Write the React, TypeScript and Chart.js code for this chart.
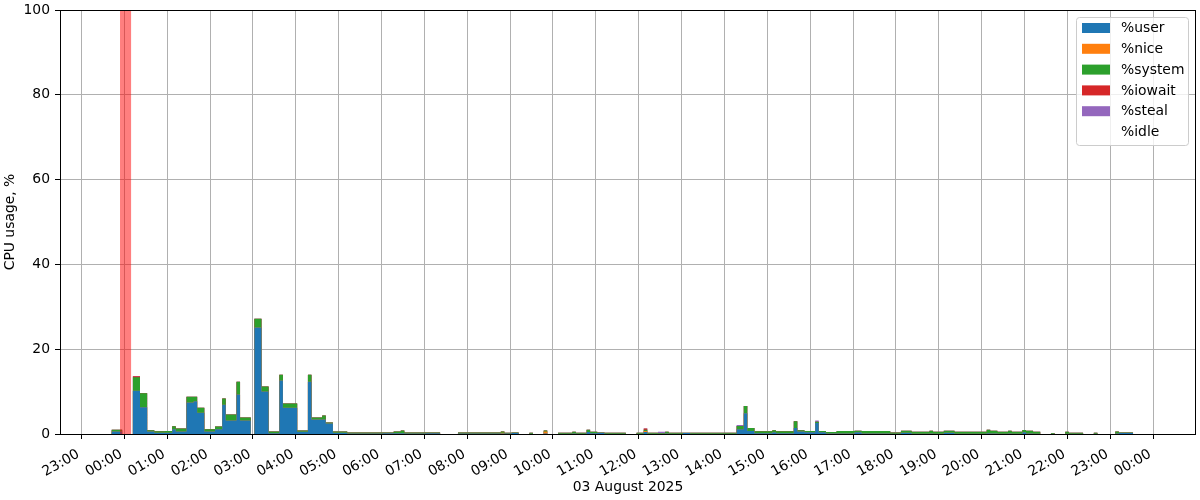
import React, { useEffect, useRef } from 'react';
import { Chart, registerables } from 'chart.js';

Chart.register(...registerables);

// Sample start times in minutes relative to 03 Aug 2025 00:00 (each sample holds until the next one)
const TIMES = [
  -18, -3, 12, 22, 32, 42, 57, 67, 72, 87,
  97, 102, 112, 127, 137, 142, 157, 162, 177, 182,
  192, 202, 217, 222, 242, 257, 262, 277, 282, 292,
  312, 362, 377, 387, 392, 422, 442, 467, 527, 532,
  542, 552, 567, 572, 587, 592, 607, 627, 632, 647,
  652, 662, 672, 702, 717, 727, 732, 747, 757, 762,
  782, 792, 857, 867, 872, 882, 907, 912, 937, 942,
  952, 967, 972, 982, 997, 1022, 1032, 1072, 1087, 1102,
  1127, 1132, 1147, 1162, 1207, 1212, 1222, 1237, 1242, 1257,
  1262, 1272, 1282, 1297, 1302, 1317, 1322, 1342, 1357, 1362,
  1387, 1392, 1412,
];

const USER = [
  0.6, 0, 10.2, 6.3, 0.6, 0.3, 0.3, 1.1, 0.6, 7.4,
  7.7, 5.0, 0.6, 1.1, 6.9, 3.2, 9.3, 3.2, 0, 25.1,
  10.0, 0.2, 12.6, 6.2, 0.55, 12.35, 3.4, 3.4, 2.5, 0.3,
  0.1, 0.2, 0.2, 0.2, 0.1, 0.2, 0, 0.1, 0.1, 0.1,
  0.25, 0, 0.05, 0, 0.1, 0, 0.05, 0.1, 0.05, 0.5,
  0.2, 0.3, 0.05, 0, 0.05, 0.5, 0.05, 0.05, 0.1, 0.05,
  0.25, 0.05, 1.1, 4.9, 0.7, 0.15, 0.4, 0.15, 1.4, 0.6,
  0.4, 2.6, 0.4, 0.1, 0.1, 0.4, 0.1, 0.05, 0.3, 0.05,
  0.1, 0.05, 0.3, 0.05, 0.2, 0.1, 0.05, 0.1, 0.05, 0.4,
  0.1, 0.05, 0, 0.05, 0, 0.05, 0.05, 0, 0.05, 0,
  0.1, 0.25, 0,
];

const NICE = [
  0, 0, 0, 0, 0, 0, 0, 0, 0, 0,
  0, 0, 0, 0, 0, 0, 0, 0, 0, 0,
  0, 0, 0, 0, 0, 0, 0, 0, 0, 0,
  0, 0, 0, 0, 0, 0, 0, 0, 0.2, 0,
  0, 0, 0, 0, 0.5, 0, 0, 0, 0, 0,
  0, 0, 0, 0, 0, 0.2, 0, 0, 0, 0,
  0, 0, 0, 0, 0, 0, 0, 0, 0, 0,
  0, 0, 0, 0, 0, 0, 0, 0, 0, 0,
  0, 0, 0, 0, 0, 0, 0, 0, 0, 0,
  0, 0, 0, 0, 0, 0, 0, 0, 0, 0,
  0, 0, 0,
];

const SYSTEM = [
  0.4, 0, 3.2, 3.3, 0.3, 0.35, 0.4, 0.7, 0.7, 1.4,
  1.1, 1.2, 0.5, 0.65, 1.45, 1.4, 3.05, 0.7, 0, 2.1,
  1.2, 0.4, 1.4, 1.0, 0.25, 1.65, 0.5, 0.95, 0.2, 0.3,
  0.25, 0.15, 0.4, 0.6, 0.25, 0.15, 0, 0.25, 0.3, 0.2,
  0.1, 0, 0.25, 0, 0.2, 0, 0.25, 0.45, 0.25, 0.5,
  0.35, 0.05, 0.25, 0, 0.25, 0.3, 0.25, 0.2, 0.45, 0.25,
  0.05, 0.25, 0.8, 1.7, 0.7, 0.5, 0.5, 0.5, 1.6, 0.3,
  0.3, 0.3, 0.3, 0.35, 0.6, 0.35, 0.6, 0.3, 0.45, 0.5,
  0.65, 0.5, 0.45, 0.5, 0.8, 0.65, 0.5, 0.65, 0.5, 0.55,
  0.65, 0.5, 0, 0.2, 0, 0.5, 0.25, 0, 0.25, 0,
  0.5, 0.1, 0,
];

const IOWAIT = [
  0, 0, 0.2, 0, 0, 0, 0, 0, 0, 0,
  0, 0, 0, 0, 0, 0, 0, 0, 0, 0,
  0, 0, 0, 0, 0, 0, 0, 0, 0, 0,
  0, 0, 0, 0, 0, 0, 0, 0, 0, 0,
  0, 0, 0, 0, 0, 0, 0, 0, 0, 0,
  0, 0, 0, 0, 0, 0.3, 0, 0, 0, 0,
  0, 0, 0, 0, 0, 0, 0, 0, 0, 0,
  0, 0, 0, 0, 0, 0, 0, 0, 0, 0,
  0, 0, 0, 0, 0, 0, 0, 0, 0, 0,
  0, 0, 0, 0, 0, 0, 0, 0, 0, 0,
  0, 0, 0,
];

const STEAL = [
  0, 0, 0, 0, 0, 0, 0, 0, 0, 0,
  0, 0, 0, 0, 0, 0, 0, 0, 0, 0,
  0, 0, 0, 0, 0, 0, 0, 0, 0, 0,
  0, 0, 0, 0, 0, 0, 0, 0, 0, 0,
  0, 0, 0, 0, 0, 0, 0, 0, 0, 0,
  0, 0, 0, 0, 0, 0, 0, 0.3, 0, 0,
  0, 0, 0.2, 0, 0, 0, 0, 0, 0, 0,
  0, 0.3, 0, 0, 0, 0, 0, 0, 0, 0,
  0, 0, 0, 0, 0, 0, 0, 0, 0, 0,
  0, 0, 0, 0, 0, 0, 0, 0, 0, 0,
  0, 0, 0,
];

// Missing-data / reboot window (minutes)
const REBOOT_SPAN = [-6, 9.5];

const HOUR_TICKS = [
  -60, 0, 60, 120, 180, 240, 300, 360, 420, 480, 540, 600, 660,
  720, 780, 840, 900, 960, 1020, 1080, 1140, 1200, 1260, 1320, 1380, 1440,
];
const TICK_LABELS = [
  '23:00', '00:00', '01:00', '02:00', '03:00', '04:00', '05:00', '06:00', '07:00',
  '08:00', '09:00', '10:00', '11:00', '12:00', '13:00', '14:00', '15:00', '16:00',
  '17:00', '18:00', '19:00', '20:00', '21:00', '22:00', '23:00', '00:00',
];

const X_MIN = -90;
const X_MAX = 1500;

const SERIES = [
  { label: '%user', values: USER, color: '#1f77b4' },
  { label: '%nice', values: NICE, color: '#ff7f0e' },
  { label: '%system', values: SYSTEM, color: '#2ca02c' },
  { label: '%iowait', values: IOWAIT, color: '#d62728' },
  { label: '%steal', values: STEAL, color: '#9467bd' },
];

const FONT_FAMILY = 'DejaVu Sans';
const FONT_SIZE = 13.9;

const overlayPlugin = {
  id: 'overlay',
  afterDatasetsDraw(chart: any) {
    const { ctx, chartArea, scales } = chart;
    const x0 = scales.x.getPixelForValue(REBOOT_SPAN[0]);
    const x1 = scales.x.getPixelForValue(REBOOT_SPAN[1]);
    ctx.save();
    ctx.fillStyle = 'rgba(255,0,0,0.5)';
    ctx.fillRect(x0, chartArea.top, x1 - x0, chartArea.bottom - chartArea.top);
    ctx.restore();
  },
  afterDraw(chart: any) {
    const { ctx, chartArea } = chart;
    const L = Math.round(chartArea.left);
    const T = Math.round(chartArea.top);
    const R = Math.round(chartArea.right);
    const B = Math.round(chartArea.bottom);
    ctx.save();
    // spines
    ctx.strokeStyle = '#000';
    ctx.lineWidth = 1;
    ctx.strokeRect(L + 0.5, T + 0.5, R - L - 1, B - T);
    // legend
    const bx = 1076.5, by = 17.5, bw = 112, bh = 128, r = 3;
    ctx.beginPath();
    ctx.moveTo(bx + r, by);
    ctx.lineTo(bx + bw - r, by);
    ctx.quadraticCurveTo(bx + bw, by, bx + bw, by + r);
    ctx.lineTo(bx + bw, by + bh - r);
    ctx.quadraticCurveTo(bx + bw, by + bh, bx + bw - r, by + bh);
    ctx.lineTo(bx + r, by + bh);
    ctx.quadraticCurveTo(bx, by + bh, bx, by + bh - r);
    ctx.lineTo(bx, by + r);
    ctx.quadraticCurveTo(bx, by, bx + r, by);
    ctx.closePath();
    ctx.fillStyle = 'rgba(255,255,255,0.8)';
    ctx.fill();
    ctx.strokeStyle = '#cccccc';
    ctx.stroke();
    ctx.font = `${FONT_SIZE}px "${FONT_FAMILY}"`;
    ctx.textBaseline = 'middle';
    ctx.textAlign = 'left';
    chart.data.datasets.forEach((ds: any, i: number) => {
      const cy = 28 + i * 20.8;
      ctx.fillStyle = ds.backgroundColor;
      ctx.fillRect(1082, cy - 5, 28, 10);
      ctx.fillStyle = '#000';
      ctx.fillText(ds.label, 1121, cy + 0.5);
    });
    ctx.restore();
  },
};

export default function App() {
  const ref = useRef<HTMLCanvasElement>(null);

  useEffect(() => {
    document.body.style.margin = '0';
    if (!ref.current) return;
    const font = { family: FONT_FAMILY, size: FONT_SIZE };

    const datasets: any[] = SERIES.map((s) => ({
      type: 'line',
      label: s.label,
      data: TIMES.map((t, i) => ({ x: t, y: s.values[i] })),
      stepped: 'before',
      fill: 'origin',
      backgroundColor: s.color,
      borderColor: 'transparent',
      borderWidth: 0,
      pointRadius: 0,
      pointHoverRadius: 0,
      tension: 0,
    }));
    datasets.push({
      type: 'line',
      label: '%idle',
      data: [],
      backgroundColor: '#ffffff',
      borderColor: 'transparent',
      pointRadius: 0,
    });

    const chart = new Chart(ref.current, {
      type: 'line',
      data: { datasets },
      options: {
        responsive: false,
        animation: false,
        events: [],
        layout: { padding: { top: 10, right: 4, left: 0, bottom: 0 } },
        plugins: {
          legend: { display: false },
          tooltip: { enabled: false },
        },
        scales: {
          x: {
            type: 'linear',
            min: X_MIN,
            max: X_MAX,
            afterFit: (s: any) => { s.height = 66; s.paddingLeft = 0; s.paddingRight = 0; },
            afterBuildTicks: (s: any) => { s.ticks = HOUR_TICKS.map((v) => ({ value: v })); },
            ticks: {
              autoSkip: false,
              maxRotation: 30,
              minRotation: 30,
              padding: 7,
              labelOffset: -3,
              color: '#000',
              font,
              callback: (_v: any, i: number) => TICK_LABELS[i],
            },
            grid: { color: '#b0b0b0', lineWidth: 1, tickColor: '#000', tickLength: 5 },
            border: { display: false },
            title: { display: true, text: '03 August 2025', color: '#000', font, padding: { top: 4, bottom: 4 } },
          },
          y: {
            type: 'linear',
            stacked: true,
            min: 0,
            max: 100,
            afterFit: (s: any) => { s.width = 60; s.paddingTop = 0; s.paddingBottom = 0; },
            ticks: { stepSize: 20, padding: 5, color: '#000', font },
            grid: { color: '#b0b0b0', lineWidth: 1, tickColor: '#000', tickLength: 5 },
            border: { display: false },
            title: { display: true, text: 'CPU usage, %', color: '#000', font, padding: { top: 2, bottom: 2 } },
          },
        },
      } as any,
      plugins: [overlayPlugin],
    });
    return () => chart.destroy();
  }, []);

  return (
    <div style={{ width: 1200, height: 500 }}>
      <canvas ref={ref} width={1200} height={500} />
    </div>
  );
}
